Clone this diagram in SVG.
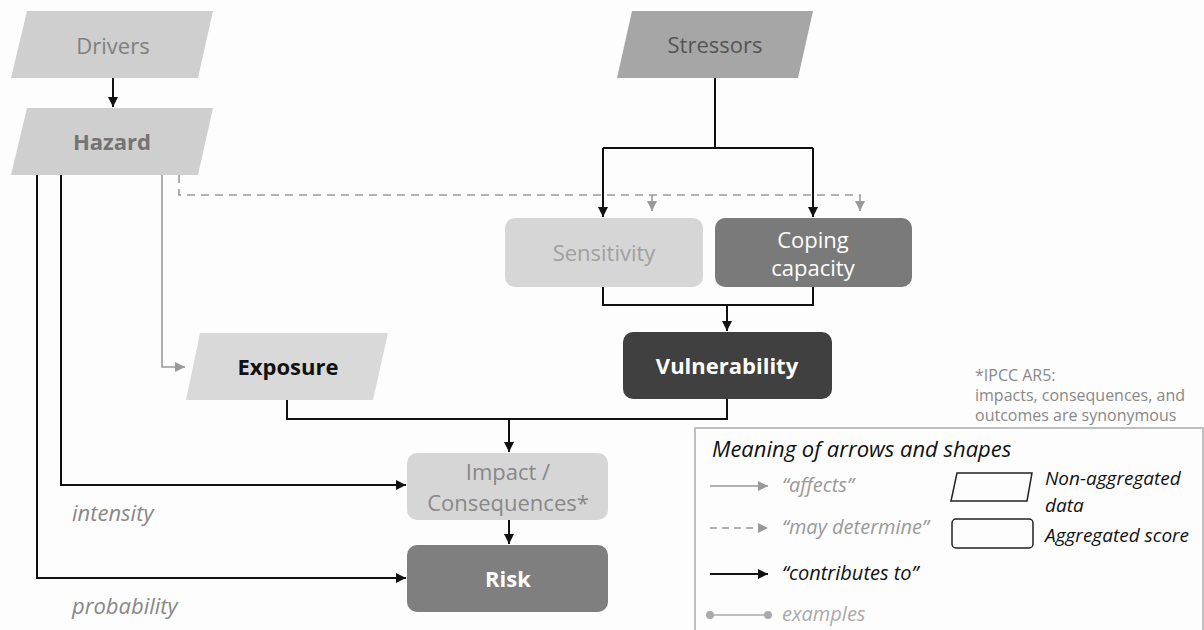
<svg xmlns="http://www.w3.org/2000/svg" width="1204" height="630" viewBox="0 0 1204 630">
<defs>
<marker id="ab" viewBox="0 0 10 10" refX="10" refY="5" markerWidth="10" markerHeight="10" markerUnits="userSpaceOnUse" orient="auto"><path d="M0,0 L10,5 L0,10 z" fill="#111"/></marker>
<marker id="ag" viewBox="0 0 10 10" refX="10" refY="5" markerWidth="10" markerHeight="10" markerUnits="userSpaceOnUse" orient="auto"><path d="M0,0 L10,5 L0,10 z" fill="#999"/></marker>
<marker id="dot" viewBox="0 0 10 10" refX="5" refY="5" markerWidth="8" markerHeight="8" markerUnits="userSpaceOnUse"><circle cx="5" cy="5" r="5" fill="#aaa"/></marker>
</defs>
<style>
text{font-family:"Open Sans","DejaVu Sans",sans-serif;text-anchor:middle}
.n{font-size:22px}
.b{font-weight:bold}
.it{font-style:italic;text-anchor:start}
.lg{font-size:20px}
.sm{font-size:19px}
.nt{text-anchor:start;font-size:16px;fill:#888}
.blk{stroke:#111;stroke-width:2;fill:none}
.gry{stroke:#999;stroke-width:1.6;fill:none}
.dsh{stroke:#999;stroke-width:1.6;fill:none;stroke-dasharray:8 6}
</style>
<rect width="1204" height="630" fill="#fdfdfd"/>

<g id="drivers"><polygon points="27,11 213,11 198,78 11,78" fill="#cfcfcf"/><text class="n" x="113" y="54" fill="#808080">Drivers</text></g>
<g id="hazard"><polygon points="27,108 213,108 198,175 11,175" fill="#cfcfcf"/><text class="n b" x="112" y="150" fill="#737373">Hazard</text></g>
<g id="stressors"><polygon points="632,11 813,11 798,78 617,78" fill="#a6a6a6"/><text class="n" x="715" y="53" fill="#555">Stressors</text></g>
<g id="sensitivity"><rect x="505" y="218" width="198" height="69" rx="10" fill="#d6d6d6"/><text class="n" x="604" y="261" fill="#a0a0a0">Sensitivity</text></g>
<g id="coping"><rect x="715" y="218" width="197" height="69" rx="10" fill="#7a7a7a"/><text class="n" x="813" y="248" fill="#fff">Coping</text><text class="n" x="813" y="276" fill="#fff">capacity</text></g>
<g id="exposure"><polygon points="200,333 388,333 373,400 186,400" fill="#d9d9d9"/><text class="n b" x="288" y="375" fill="#111">Exposure</text></g>
<g id="vulnerability"><rect x="623" y="332" width="209" height="67" rx="10" fill="#404040"/><text class="n b" x="727" y="374" fill="#fff">Vulnerability</text></g>
<g id="impact"><rect x="407" y="453" width="201" height="67" rx="10" fill="#d6d6d6"/><text class="n" x="508" y="480" fill="#888">Impact /</text><text class="n" x="508" y="511" fill="#888">Consequences*</text></g>
<g id="risk"><rect x="407" y="545" width="201" height="67" rx="10" fill="#7f7f7f"/><text class="n b" x="508" y="587" fill="#fff">Risk</text></g>

<g id="connectors">
<path class="blk" d="M113,78 V107" marker-end="url(#ab)"/>
<path class="blk" d="M37,175 V578 H406" marker-end="url(#ab)"/>
<path class="blk" d="M61,175 V485 H406" marker-end="url(#ab)"/>
<path class="gry" d="M162,175 V367 H185" marker-end="url(#ag)"/>
<path class="dsh" d="M179,175 V195 H860 V211" marker-end="url(#ag)"/>
<path class="dsh" d="M652,195 V211" marker-end="url(#ag)"/>
<path class="blk" d="M715,78 V148"/>
<path class="blk" d="M603,148 H813"/>
<path class="blk" d="M603,148 V217" marker-end="url(#ab)"/>
<path class="blk" d="M813,148 V217" marker-end="url(#ab)"/>
<path class="blk" d="M603,287 V305 H813 V287"/>
<path class="blk" d="M727,305 V331" marker-end="url(#ab)"/>
<path class="blk" d="M287,400 V419 H727 V399"/>
<path class="blk" d="M509,419 V452" marker-end="url(#ab)"/>
<path class="blk" d="M509,520 V544" marker-end="url(#ab)"/>
</g>

<text class="it" x="72" y="521" font-size="22" fill="#888">intensity</text>
<text class="it" x="72" y="614" font-size="22" fill="#888">probability</text>

<g id="note">
<text class="nt" x="975" y="381">*IPCC AR5:</text>
<text class="nt" x="975" y="401">impacts, consequences, and</text>
<text class="nt" x="975" y="421">outcomes are synonymous</text>
</g>

<g id="legend">
<path d="M695,632 V428 H1203 V632" fill="none" stroke="#aaa" stroke-width="1.5"/>
<text class="it" x="712" y="457" font-size="22" fill="#111">Meaning of arrows and shapes</text>
<path class="gry" d="M710,486 H768" marker-end="url(#ag)"/>
<text class="it lg" x="782" y="492" fill="#999">“affects”</text>
<path class="dsh" d="M710,528 H768" marker-end="url(#ag)" style="stroke-dasharray:7 5"/>
<text class="it lg" x="782" y="534" fill="#999">“may determine”</text>
<path class="blk" d="M710,574 H768" marker-end="url(#ab)"/>
<text class="it lg" x="782" y="580" fill="#111">“contributes to”</text>
<path d="M710,615 H768" stroke="#aaa" stroke-width="1.6" marker-start="url(#dot)" marker-end="url(#dot)"/>
<text class="it lg" x="782" y="621" fill="#aaa">examples</text>
<polygon points="957,473 1032,473 1027,501 951,501" fill="none" stroke="#222" stroke-width="1.5"/>
<rect x="952" y="519" width="81" height="29" rx="4" fill="none" stroke="#222" stroke-width="1.5"/>
<text class="it sm" x="1045" y="485" fill="#111">Non-aggregated</text>
<text class="it sm" x="1045" y="512" fill="#111">data</text>
<text class="it sm" x="1045" y="542" fill="#111">Aggregated score</text>
</g>
</svg>
